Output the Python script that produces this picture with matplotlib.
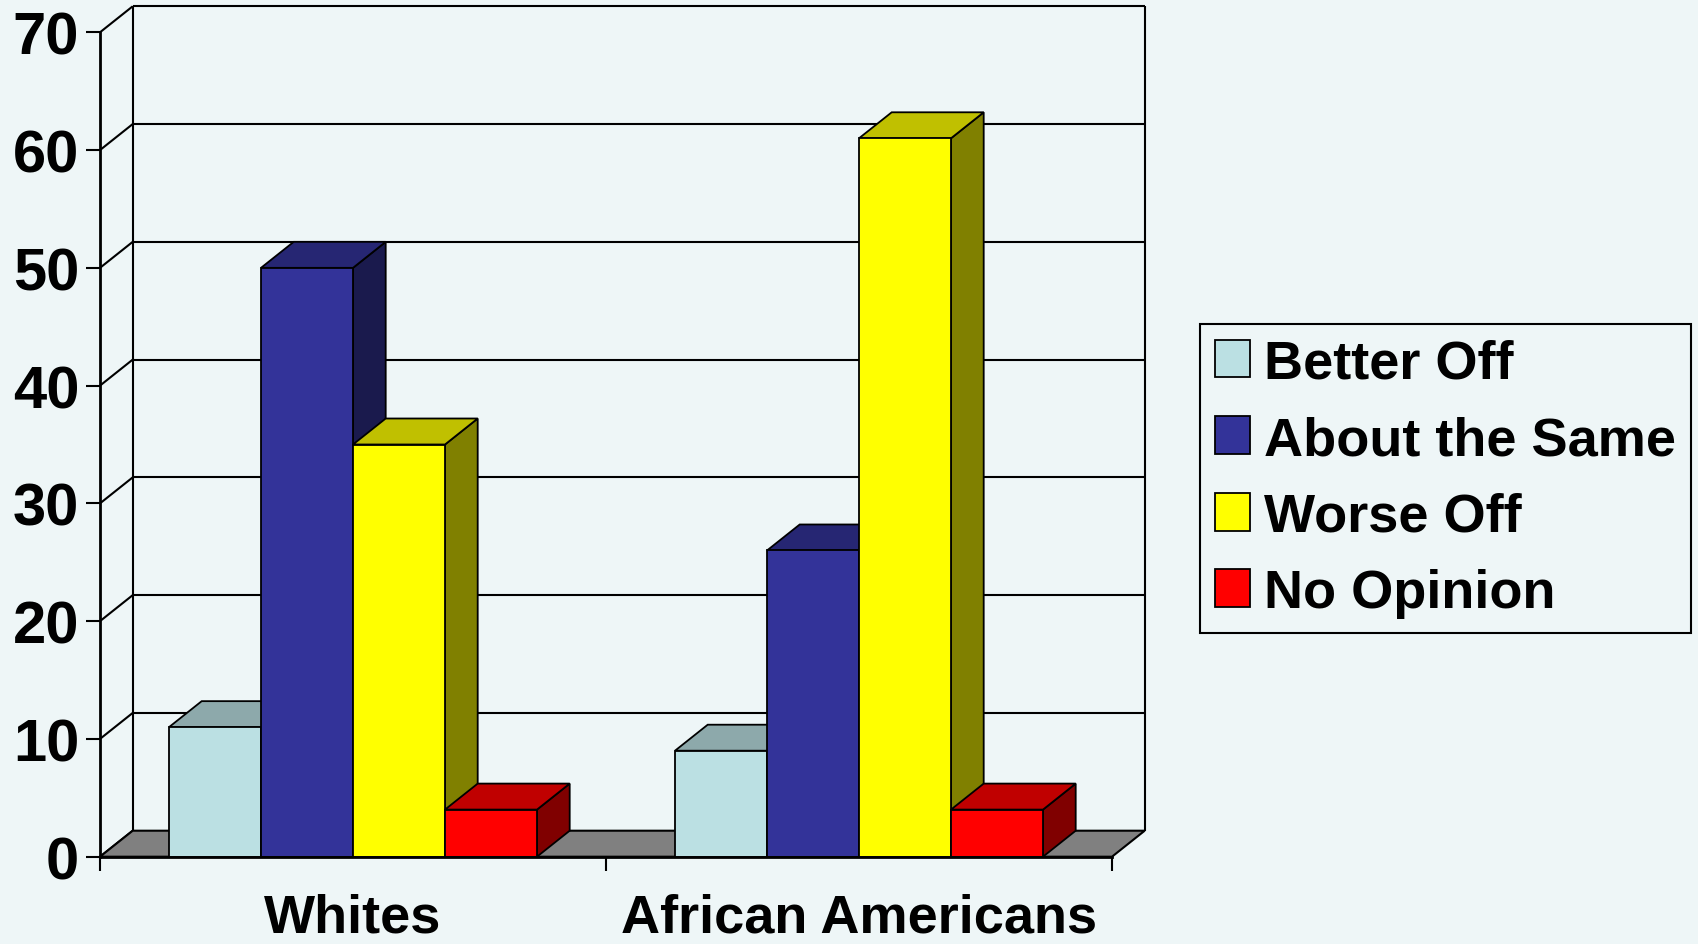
import matplotlib
matplotlib.use('Agg')
import matplotlib.pyplot as plt
from matplotlib.patches import Polygon

# ---- data ----
categories = ['Whites', 'African Americans']
series = ['Better Off', 'About the Same', 'Worse Off', 'No Opinion']
better_off = [11, 9]
about_same = [50, 26]
worse_off = [35, 61]
no_opinion = [4, 4]
y_ticks = [0, 10, 20, 30, 40, 50, 60, 70]

values = [better_off, about_same, worse_off, no_opinion]

# ---- style ----
bg = '#EEF6F7'
front_colors = ['#BBE0E3', '#333399', '#FFFF00', '#FF0000']
top_colors = ['#8DA9AB', '#262673', '#C0C000', '#C00000']
side_colors = ['#5E7274', '#1A1A4D', '#808000', '#800000']
floor_color = '#808080'

plt.rcParams['font.family'] = ['Liberation Sans', 'DejaVu Sans']
plt.rcParams['font.weight'] = 'bold'

FW, FH, DPI = 16.98, 9.45, 100
fig = plt.figure(figsize=(FW, FH), dpi=DPI, facecolor=bg)
ax = fig.add_axes([100 / 1698, 1 - 857.7 / 945, 1012 / 1698, (857.7 - 33.3) / 945])
ax.set_facecolor('none')
ncat = len(categories)
ymax = y_ticks[-1]
ax.set_xlim(0, ncat)
ax.set_ylim(0, ymax)

# depth of the pseudo-3D projection, in pixels -> data units
pos = ax.get_position()
px_per_x = pos.width * FW * DPI / ncat
px_per_y = pos.height * FH * DPI / ymax
DX = 32.7 / px_per_x
DY = 26.0 / px_per_y

line_kw = dict(color='black', lw=1.5, clip_on=False, solid_capstyle='butt')

# back wall gridlines and left wall diagonals
for t in y_ticks:
    if t > 0:
        ax.plot([DX, ncat + DX], [t + DY, t + DY], zorder=1, **line_kw)
    ax.plot([0, DX], [t, t + DY], zorder=1, **line_kw)
ax.plot([DX, DX], [DY, ymax + DY], zorder=1, **line_kw)
ax.plot([ncat + DX, ncat + DX], [DY, ymax + DY], zorder=1, **line_kw)

# floor
ax.add_patch(Polygon([(0, 0), (ncat, 0), (ncat + DX, DY), (DX, DY)], closed=True,
                     facecolor=floor_color, edgecolor='black', lw=1.5, zorder=2,
                     clip_on=False))

# bars
n = len(series)
bw = 1.0 / (n + 1.5)
start = (1 - n * bw) / 2
containers = []
for j, s in enumerate(series):
    xs = [i + start + j * bw for i in range(ncat)]
    bars = ax.bar(xs, values[j], width=bw, align='edge', color=front_colors[j],
                  edgecolor='black', linewidth=1.3, zorder=5 + 3 * j, label=s,
                  clip_on=False)
    containers.append(bars)
    for r in bars:
        x0, h = r.get_x(), r.get_height()
        top = [(x0, h), (x0 + bw, h), (x0 + bw + DX, h + DY), (x0 + DX, h + DY)]
        side = [(x0 + bw, 0), (x0 + bw + DX, DY), (x0 + bw + DX, h + DY), (x0 + bw, h)]
        ax.add_patch(Polygon(side, closed=True, facecolor=side_colors[j],
                             edgecolor='black', lw=1.3, zorder=3 + 3 * j, clip_on=False))
        ax.add_patch(Polygon(top, closed=True, facecolor=top_colors[j],
                             edgecolor='black', lw=1.3, zorder=4 + 3 * j, clip_on=False))

# spines & ticks
for sp in ['top', 'right']:
    ax.spines[sp].set_visible(False)
for sp in ['left', 'bottom']:
    ax.spines[sp].set_linewidth(2)
    ax.spines[sp].set_zorder(30)

ax.set_yticks(y_ticks)
ax.set_yticklabels([str(t) for t in y_ticks])
ax.tick_params(axis='y', direction='out', length=10, width=1.5, pad=5,
               labelsize=43)
ax.set_xticks(range(ncat + 1))
ax.set_xticklabels([''] * (ncat + 1))
ax.tick_params(axis='x', which='major', direction='out', length=10, width=1.5)
ax.set_xticks([i + 0.5 for i in range(ncat)], minor=True)
ax.set_xticklabels(categories, minor=True)
ax.tick_params(axis='x', which='minor', length=0, pad=26, labelsize=39)

leg = ax.legend(handles=containers, labels=series, loc='upper left',
                bbox_to_anchor=(1200 / 1698, 1 - 325 / 945),
                bbox_transform=fig.transFigure, borderaxespad=0,
                frameon=True, fancybox=False, edgecolor='black', facecolor=bg,
                framealpha=1, fontsize=39, handlelength=0.65, handleheight=0.69,
                handletextpad=0.26, borderpad=0.27, labelspacing=0.49)
leg.get_frame().set_linewidth(1.5)

fig.savefig('out.png', dpi=DPI, facecolor=bg)
